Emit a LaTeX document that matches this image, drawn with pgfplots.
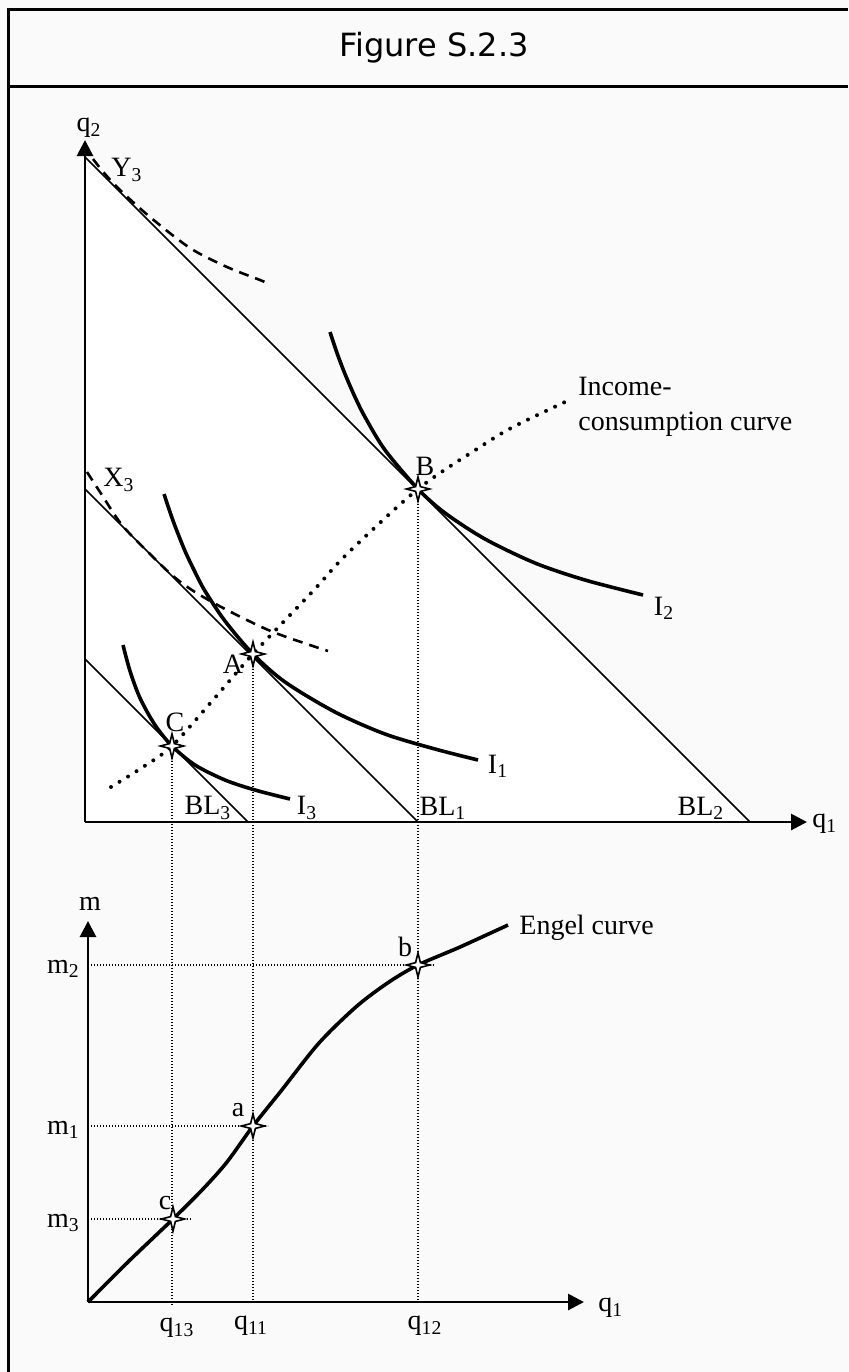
\documentclass[border=0pt]{standalone}
\usepackage{fontspec}
\setmainfont{Liberation Serif}
\newfontfamily\titlefont{DejaVu Sans}
\usepackage{pgfplots}
\pgfplotsset{compat=1.18}
\usetikzlibrary{arrows.meta}

\definecolor{pagebg}{HTML}{FAFAFA}

% four-pointed star used for the tangency points
\pgfdeclareplotmark{spark}{%
  \pgfpathmoveto{\pgfqpoint{0pt}{6pt}}%
  \pgfpathlineto{\pgfqpoint{1.2pt}{1.2pt}}%
  \pgfpathlineto{\pgfqpoint{5.8pt}{0pt}}%
  \pgfpathlineto{\pgfqpoint{1.2pt}{-1.2pt}}%
  \pgfpathlineto{\pgfqpoint{0pt}{-6pt}}%
  \pgfpathlineto{\pgfqpoint{-1.2pt}{-1.2pt}}%
  \pgfpathlineto{\pgfqpoint{-5.8pt}{0pt}}%
  \pgfpathlineto{\pgfqpoint{-1.2pt}{1.2pt}}%
  \pgfpathclose
  \pgfusepathqfillstroke}

\tikzset{
  lbl/.style={font=\fontsize{14}{16}\selectfont, inner sep=0pt},
  bl/.style={line width=0.75pt},
  icurve/.style={line width=1.8pt, smooth},
  dashcurve/.style={line width=1.3pt, smooth, dash pattern=on 5pt off 3.5pt},
  guide/.style={line width=0.6pt, dash pattern=on 0.55pt off 0.95pt},
  star/.style={only marks, mark=spark, mark options={fill=white, draw=black, line width=0.8pt, solid}},
}
\pgfplotsset{econ/.style={
  scale only axis, axis lines=left, axis on top,
  xtick=\empty, ytick=\empty, clip=false,
  axis line style={line width=1.45pt, -{Triangle[length=8pt,width=8pt]}},
}}

\begin{document}
\begin{tikzpicture}[x=0.5pt,y=-0.5pt]
\useasboundingbox (0,0) rectangle (848,1372);
\fill[pagebg] (0,0) rectangle (848,1372);
\draw[line width=1.5pt] (8,1372) -- (8,9) -- (848,9);
\draw[line width=1.5pt] (8,86) -- (848,86);
\node[font=\titlefont\fontsize{16}{19}\selectfont] at (434,48) {Figure S.2.3};

\coordinate (O1) at (85,822);
\coordinate (O2) at (88,1302);

% ---------------- indifference map ----------------
\begin{axis}[econ, at={(O1)}, anchor=south west,
  width=361pt, height=341pt, xmin=0, xmax=722, ymin=0, ymax=682]
  \addplot[fill=white, draw=none] coordinates {(0,0) (0,665) (665,0) (0,0)};
  % budget lines
  \addplot[bl] coordinates {(0,665) (665,0)};
  \addplot[bl] coordinates {(0,333) (333,0)};
  \addplot[bl] coordinates {(0,163) (163,0)};
  % dashed curves Y3 and X3
  \addplot[dashcurve] coordinates {(8,663) (20,648) (35,632) (65,605) (105,574) (142,555) (175,542) (182,539)};
  \addplot[dashcurve] coordinates {(2,350) (15,330) (37,297) (65,268) (88,246) (110,230) (142,212) (188,190) (243,171)};
  % indifference curves
  \addplot[icurve] coordinates {(245,490) (252,469) (260,448) (270,425) (280,405) (300,372) (333,333) (360,309) (400,283) (450,259) (500,242) (558,227)};
  \addplot[icurve] coordinates {(79,328) (85,310) (90,296) (100,271) (110,250) (120,231) (140,201) (168,168) (200,140) (250,110) (300,88) (350,73) (393,62)};
  \addplot[icurve] coordinates {(38,177) (45,151) (55,124) (70,97) (87,76) (110,57) (140,42) (170,32) (205,23)};
  % income-consumption curve
  \addplot[line width=2pt, line cap=round, dash pattern=on 0pt off 5pt, smooth]
    coordinates {(26,35) (58,55) (87,76) (128,122) (168,168) (228,231) (262,268) (333,333) (395,375) (428,395) (480,420)};
  % guides down to the Engel diagram
  \addplot[guide] coordinates {(87,76) (87,-483)};
  \addplot[guide] coordinates {(168,168) (168,-480)};
  \addplot[guide] coordinates {(333,333) (333,-480)};
  \addplot[star] coordinates {(87,76) (168,168) (333,333)};

  \node[lbl] at (axis cs:4,694) {q\textsubscript{2}};
  \node[lbl, anchor=west] at (axis cs:727,-2) {q\textsubscript{1}};
  \node[lbl] at (axis cs:42,652) {Y\textsubscript{3}};
  \node[lbl] at (axis cs:34,342) {X\textsubscript{3}};
  \node[lbl] at (axis cs:340,356) {B};
  \node[lbl] at (axis cs:148,158) {A};
  \node[lbl] at (axis cs:90,100) {C};
  \node[lbl] at (axis cs:579,214) {I\textsubscript{2}};
  \node[lbl] at (axis cs:413,56) {I\textsubscript{1}};
  \node[lbl] at (axis cs:222,14) {I\textsubscript{3}};
  \node[lbl] at (axis cs:123,14) {BL\textsubscript{3}};
  \node[lbl] at (axis cs:358,14) {BL\textsubscript{1}};
  \node[lbl] at (axis cs:616,14) {BL\textsubscript{2}};
  \node[lbl, anchor=west] at (axis cs:493,436) {Income-};
  \node[lbl, anchor=west] at (axis cs:493,398) {consumption curve};
\end{axis}

% ---------------- Engel curve ----------------
\begin{axis}[econ, at={(O2)}, anchor=south west,
  width=248pt, height=190.5pt, xmin=0, xmax=496, ymin=0, ymax=381]
  \addplot[guide] coordinates {(0,337) (347,337)};
  \addplot[guide] coordinates {(0,176) (180,176)};
  \addplot[guide] coordinates {(0,83) (104,83)};
  \addplot[line width=1.8pt, smooth] coordinates {(0,0) (42,42) (85,83) (115,113) (139,140) (165,176) (193,211) (231,259) (269,296) (301,320) (330,337) (372,355) (420,377)};
  \addplot[star] coordinates {(85,83) (165,176) (330,337)};

  \node[lbl] at (axis cs:2,398) {m};
  \node[lbl, anchor=west] at (axis cs:510,-6) {q\textsubscript{1}};
  \node[lbl, anchor=east] at (axis cs:-8,333) {m\textsubscript{2}};
  \node[lbl, anchor=east] at (axis cs:-8,172) {m\textsubscript{1}};
  \node[lbl, anchor=east] at (axis cs:-8,79) {m\textsubscript{3}};
  \node[lbl] at (axis cs:89,-26) {q\textsubscript{13}};
  \node[lbl] at (axis cs:163,-24) {q\textsubscript{11}};
  \node[lbl] at (axis cs:337,-24) {q\textsubscript{12}};
  \node[lbl] at (axis cs:317,355) {b};
  \node[lbl] at (axis cs:150,192) {a};
  \node[lbl] at (axis cs:77,99) {c};
  \node[lbl, anchor=west] at (axis cs:431,374) {Engel curve};
\end{axis}
\end{tikzpicture}
\end{document}
